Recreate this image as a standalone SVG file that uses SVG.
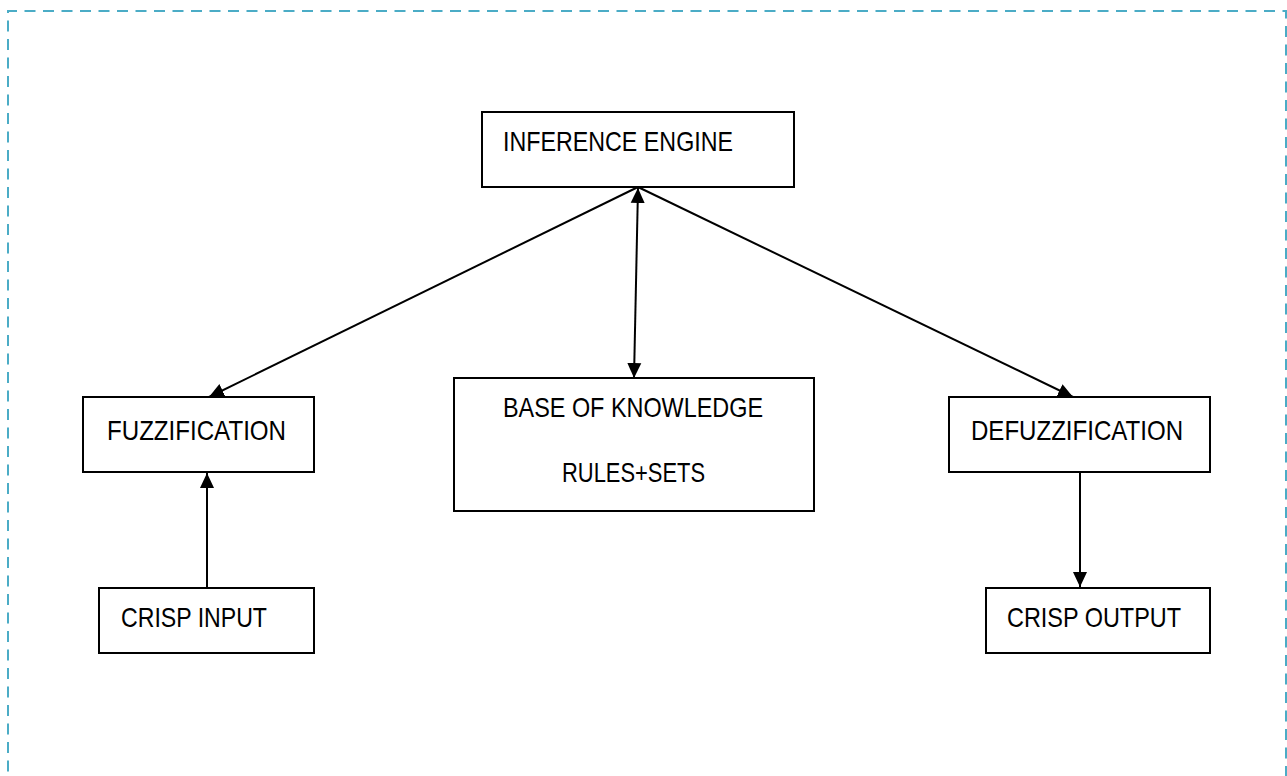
<svg xmlns="http://www.w3.org/2000/svg" width="1287" height="776" viewBox="0 0 1287 776">
  <style>
    .box { fill: #ffffff; stroke: #000000; stroke-width: 2; }
    .lbl { font-family: "Liberation Sans Narrow", "Liberation Sans", Arial, sans-serif; font-size: 28px; fill: #000000; }
    .link { stroke: #000000; stroke-width: 2; fill: none; }
    .frame { fill: none; stroke: #4bacc6; stroke-width: 2; stroke-dasharray: 11 7.5; }
  </style>
  <defs>
    <marker id="arrowEnd" markerUnits="userSpaceOnUse" markerWidth="16" markerHeight="16" viewBox="0 0 16 16" refX="15" refY="8" orient="auto">
      <path d="M0,1 L15,8 L0,15 Z" fill="#000000"/>
    </marker>
    <marker id="arrowStart" markerUnits="userSpaceOnUse" markerWidth="16" markerHeight="16" viewBox="0 0 16 16" refX="1" refY="8" orient="auto">
      <path d="M16,1 L1,8 L16,15 Z" fill="#000000"/>
    </marker>
  </defs>

  <rect width="1287" height="776" fill="#ffffff"/>

  <!-- dashed page frame -->
  <path class="frame" d="M8,790 L8,11 L1286,11 L1286,790"/>

  <!-- connectors -->
  <g id="connectors">
    <line class="link" x1="638" y1="187" x2="209" y2="397" marker-end="url(#arrowEnd)"/>
    <line class="link" x1="638" y1="187" x2="1073" y2="397" marker-end="url(#arrowEnd)"/>
    <line class="link" x1="638" y1="188" x2="634" y2="378" marker-start="url(#arrowStart)" marker-end="url(#arrowEnd)"/>
    <line class="link" x1="207" y1="588" x2="207" y2="473" marker-end="url(#arrowEnd)"/>
    <line class="link" x1="1080" y1="472" x2="1080" y2="587" marker-end="url(#arrowEnd)"/>
  </g>

  <g id="inference-engine">
    <rect class="box" x="482" y="112" width="312" height="75"/>
    <text class="lbl" x="503" y="151" textLength="230" lengthAdjust="spacingAndGlyphs">INFERENCE ENGINE</text>
  </g>

  <g id="fuzzification">
    <rect class="box" x="83" y="397" width="231" height="75"/>
    <text class="lbl" x="107" y="440" textLength="179" lengthAdjust="spacingAndGlyphs">FUZZIFICATION</text>
  </g>

  <g id="base-of-knowledge">
    <rect class="box" x="454" y="378" width="360" height="133"/>
    <text class="lbl" x="503" y="417" textLength="260" lengthAdjust="spacingAndGlyphs">BASE OF KNOWLEDGE</text>
    <text class="lbl" x="562" y="482" textLength="143" lengthAdjust="spacingAndGlyphs">RULES+SETS</text>
  </g>

  <g id="defuzzification">
    <rect class="box" x="949" y="397" width="261" height="75"/>
    <text class="lbl" x="971" y="440" textLength="212" lengthAdjust="spacingAndGlyphs">DEFUZZIFICATION</text>
  </g>

  <g id="crisp-input">
    <rect class="box" x="99" y="588" width="215" height="65"/>
    <text class="lbl" x="121" y="627" textLength="146" lengthAdjust="spacingAndGlyphs">CRISP INPUT</text>
  </g>

  <g id="crisp-output">
    <rect class="box" x="986" y="588" width="224" height="65"/>
    <text class="lbl" x="1007" y="627" textLength="174" lengthAdjust="spacingAndGlyphs">CRISP OUTPUT</text>
  </g>
</svg>
